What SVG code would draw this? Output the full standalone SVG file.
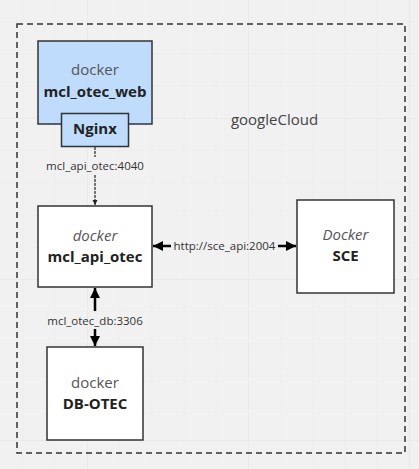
<svg xmlns="http://www.w3.org/2000/svg" width="419" height="469" viewBox="0 0 419 469">
<style>
.node{stroke:#333;stroke-width:1.5}
.white{fill:#fff}
.blue{fill:#bfdcfd}
.t{font-family:"Open Sans","Noto Sans",sans-serif;text-anchor:middle}
.sub{font-size:15px;fill:#555}
.it{font-style:italic}
.main{font-size:15px;font-weight:700;fill:#222}
.lbl{font-size:11.5px;fill:#333}
.thin{stroke:#222;stroke-width:1.2;stroke-dasharray:3 1;fill:none}
.thick{stroke:#000;stroke-width:2.5;fill:none}
</style>
<defs>
<pattern id="minor" x="22.6" y="21.4" width="32.2" height="32.2" patternUnits="userSpaceOnUse">
<path d="M0 0V32.2M0 0H32.2" stroke="#ebebeb" stroke-width="1" fill="none"/>
</pattern>
<pattern id="major" x="87" y="118" width="161" height="161" patternUnits="userSpaceOnUse">
<path d="M0 0V161M0 0H161" stroke="#e3e3e3" stroke-width="1" fill="none"/>
</pattern>
<marker id="sm" viewBox="0 0 10 10" refX="10" refY="5" markerWidth="5" markerHeight="7" markerUnits="userSpaceOnUse" orient="auto-start-reverse">
<path d="M0 0L10 5L0 10z" fill="#222"/>
</marker>
<marker id="big" viewBox="0 0 10 10" refX="10" refY="5" markerWidth="10" markerHeight="10" markerUnits="userSpaceOnUse" orient="auto-start-reverse">
<path d="M0 0L10 5L0 10z" fill="#000"/>
</marker>
</defs>
<rect width="419" height="469" fill="#f1f1f1"/>
<rect width="419" height="469" fill="url(#minor)"/>
<rect width="419" height="469" fill="url(#major)"/>

<g id="googleCloud">
<rect x="17" y="24" width="388" height="429" fill="none" stroke="#333" stroke-width="1.5" stroke-dasharray="6 4"/>
<text class="t" x="274.5" y="125" style="font-size:15px;fill:#444">googleCloud</text>
</g>

<g id="connectors">
<line class="thin" x1="95" y1="147" x2="95" y2="157"/>
<line class="thin" x1="95" y1="175" x2="95" y2="205" marker-end="url(#sm)"/>
<text class="t lbl" x="95" y="169.5">mcl_api_otec:4040</text>
<line class="thick" x1="95" y1="288" x2="95" y2="311" marker-start="url(#big)"/>
<line class="thick" x1="95" y1="329" x2="95" y2="346" marker-end="url(#big)"/>
<text class="t lbl" x="95" y="324.5">mcl_otec_db:3306</text>
<line class="thick" x1="153" y1="246" x2="171" y2="246" marker-start="url(#big)"/>
<line class="thick" x1="278" y1="246" x2="296" y2="246" marker-end="url(#big)"/>
<text class="t lbl" x="224.5" y="250">http://sce_api:2004</text>
</g>

<g id="web">
<rect class="node blue" x="38" y="41" width="114" height="83"/>
<text class="t sub" x="95" y="75">docker</text>
<text class="t main" x="95" y="97">mcl_otec_web</text>
</g>
<g id="nginx">
<rect class="node blue" x="61.5" y="113.5" width="67" height="33"/>
<text class="t main" x="95" y="134">Nginx</text>
</g>
<g id="api">
<rect class="node white" x="38" y="206" width="114" height="81"/>
<text class="t sub it" x="95" y="241">docker</text>
<text class="t main" x="95" y="262">mcl_api_otec</text>
</g>
<g id="sce">
<rect class="node white" x="297" y="200" width="97" height="93"/>
<text class="t sub it" x="345.5" y="240">Docker</text>
<text class="t main" x="345.5" y="261">SCE</text>
</g>
<g id="db">
<rect class="node white" x="47" y="347" width="96" height="93"/>
<text class="t sub" x="95" y="388">docker</text>
<text class="t main" x="95" y="409">DB-OTEC</text>
</g>
</svg>
